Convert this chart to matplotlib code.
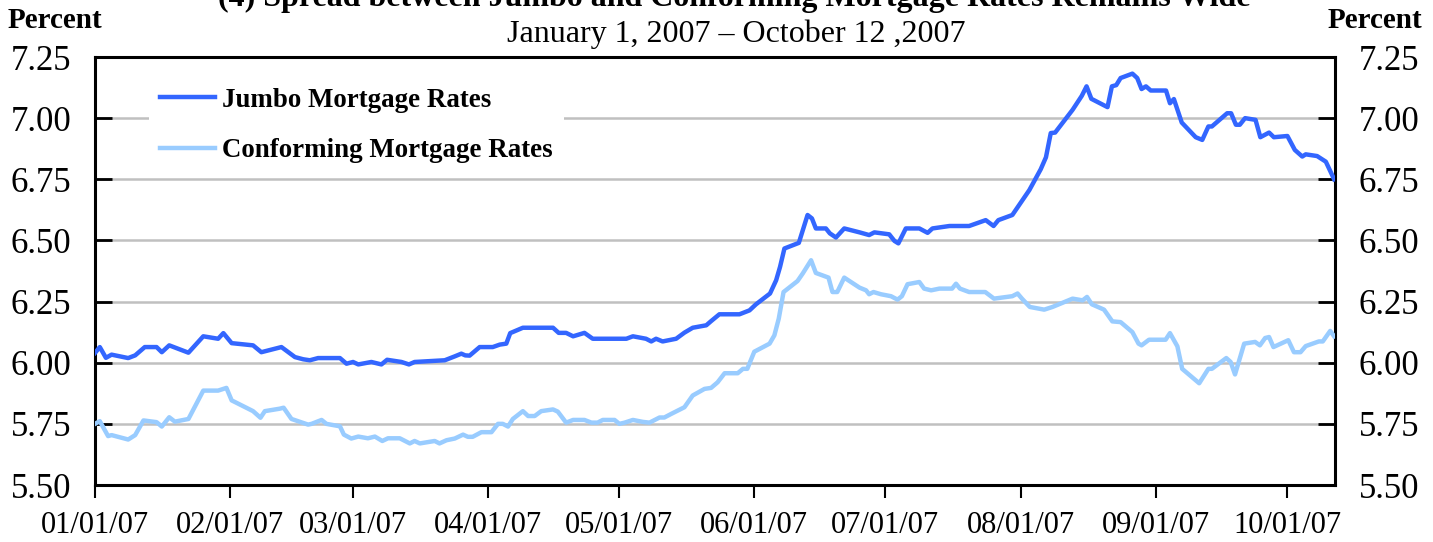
import matplotlib
matplotlib.use("Agg")
import matplotlib.pyplot as plt
import matplotlib.dates as mdates
from matplotlib.ticker import FixedLocator, FormatStrFormatter
import numpy as np
import datetime as dt

# ---------------- data ----------------
title = "(4) Spread between Jumbo and Conforming Mortgage Rates Remains Wide"
subtitle = "January 1, 2007 \u2013 October 12 ,2007"
series_names = ["Jumbo Mortgage Rates", "Conforming Mortgage Rates"]
start_date = dt.datetime(2007, 1, 1)
end_date = dt.datetime(2007, 10, 12)

# days since 2007-01-01
jumbo_days = [0, 1.1, 2.5, 3.8, 7.6, 9.2, 11.4, 14.1, 15.3, 17.0, 21.4, 24.8, 28.2, 29.4, 31.3,
              36.2, 38.1, 42.7, 45.8, 47.7, 49.2, 51.1, 56.1, 57.6, 59.1, 60.3, 63.3, 65.6, 66.9,
              70.2, 71.9, 73.2, 80.1, 82.4, 83.9, 84.8, 85.8, 88.1, 91.1, 92.7, 94.2, 95.1, 98.0,
              104.9, 106.2, 107.9, 109.5, 112.1, 114.0, 121.7, 123.2, 126.2, 127.4, 128.5, 130.0,
              133.1, 135.0, 136.9, 140.0, 141.1, 143.0, 147.6, 149.9, 151.4, 154.6, 156.0, 156.9,
              157.9, 161.2, 163.2, 164.2, 165.1, 167.4, 168.3, 169.7, 171.6, 175.1, 177.3, 178.5,
              181.9, 183.1, 184.0, 185.7, 188.8, 190.7, 191.8, 195.7, 200.2, 204.0, 205.8, 206.9,
              210.1, 214.0, 216.6, 217.8, 218.9, 219.9, 223.9, 226.0, 227.1, 228.2, 231.9, 232.9,
              233.9, 234.9, 237.6, 238.7, 239.7, 240.7, 241.8, 245.3, 246.2, 247.1, 248.9, 252.1,
              253.6, 255.0, 255.8, 259.3, 260.2, 261.3, 262.2, 263.4, 265.8, 266.9, 268.9, 270.0,
              273.1, 274.8, 276.5, 277.3, 279.9, 281.9, 283.8]
jumbo_rates = [6.04, 6.064, 6.02, 6.033, 6.019, 6.03, 6.064, 6.064, 6.043, 6.071, 6.041, 6.108, 6.098, 6.121, 6.08,
               6.071, 6.043, 6.064, 6.023, 6.014, 6.01, 6.019, 6.019, 5.996, 6.003, 5.993, 6.003, 5.993, 6.012,
               6.003, 5.993, 6.003, 6.01, 6.026, 6.037, 6.03, 6.029, 6.064, 6.064, 6.074, 6.078, 6.121, 6.143,
               6.143, 6.122, 6.122, 6.108, 6.122, 6.098, 6.098, 6.108, 6.098, 6.087, 6.098, 6.087,
               6.098, 6.123, 6.143, 6.153, 6.17, 6.198, 6.198, 6.214, 6.239, 6.283, 6.337, 6.392,
               6.467, 6.49, 6.604, 6.59, 6.549, 6.549, 6.529, 6.512, 6.549, 6.533, 6.522, 6.533,
               6.525, 6.498, 6.488, 6.549, 6.549, 6.531, 6.549, 6.559, 6.559, 6.583, 6.559, 6.583,
               6.604, 6.706, 6.791, 6.84, 6.939, 6.941, 7.034, 7.091, 7.13, 7.079, 7.045, 7.13,
               7.135, 7.164, 7.182, 7.164, 7.119, 7.13, 7.113, 7.113, 7.061, 7.078, 6.982, 6.922,
               6.911, 6.966, 6.966, 7.02, 7.02, 6.973, 6.973, 7.0, 6.993, 6.922, 6.941, 6.922,
               6.927, 6.87, 6.843, 6.852, 6.845, 6.822, 6.75]

conf_days = [0, 1.1, 3.0, 3.8, 7.6, 9.2, 11.1, 14.1, 15.3, 17.0, 18.3, 21.4, 24.8, 28.2, 30.1, 31.3,
             36.2, 37.9, 38.9, 42.3, 43.2, 45.0, 48.8, 49.6, 51.9, 53.0, 56.1, 57.0, 58.7, 60.3, 62.5,
             64.1, 65.8, 67.1, 69.8, 72.1, 73.2, 74.4, 77.8, 78.9, 80.5, 82.4, 84.3, 85.4, 86.5, 88.5,
             90.8, 92.3, 93.4, 94.6, 95.7, 98.0, 99.2, 100.7, 102.2, 104.9, 106.0, 107.9, 109.5, 112.1,
             113.7, 115.1, 116.3, 119.0, 120.1, 121.3, 123.2, 125.5, 127.0, 129.3, 130.4, 132.0, 135.0,
             136.9, 139.6, 141.1, 142.6, 144.2, 147.2, 148.4, 149.4, 151.0, 154.5, 155.6, 156.6, 157.7,
             160.9, 162.1, 164.0, 165.1, 168.0, 168.9, 170.0, 171.6, 175.1, 176.6, 177.3, 178.3, 180.0,
             182.3, 183.8, 184.8, 186.1, 188.8, 189.9, 191.5, 193.4, 196.3, 197.2, 198.1, 200.2, 203.9,
             205.9, 210.1, 211.3, 212.3, 214.1, 217.4, 219.3, 223.9, 226.2, 227.2, 228.3, 231.1, 233.0,
             234.9, 237.6, 239.0, 239.7, 241.4, 245.2, 246.2, 247.9, 249.0, 252.9, 255.0, 255.8, 259.1,
             260.1, 261.1, 263.2, 265.7, 266.8, 268.0, 268.9, 269.9, 273.3, 274.6, 276.1, 277.3, 280.3,
             281.2, 282.9, 283.8]
conf_rates = [5.75, 5.761, 5.70, 5.704, 5.686, 5.704, 5.764, 5.757, 5.739, 5.777, 5.759, 5.77, 5.886, 5.886, 5.897, 5.846,
              5.802, 5.775, 5.802, 5.812, 5.816, 5.77, 5.747, 5.75, 5.766, 5.75, 5.74, 5.706, 5.69, 5.698, 5.691,
              5.698, 5.68, 5.691, 5.691, 5.67, 5.68, 5.67, 5.68, 5.67, 5.683, 5.69, 5.706, 5.697, 5.697, 5.716,
              5.716, 5.75, 5.75, 5.739, 5.77, 5.802, 5.782, 5.782, 5.802, 5.809, 5.80, 5.755, 5.766, 5.766,
              5.755, 5.755, 5.766, 5.766, 5.75, 5.755, 5.766, 5.758, 5.755, 5.776, 5.776, 5.791, 5.818,
              5.866, 5.893, 5.897, 5.92, 5.957, 5.957, 5.975, 5.975, 6.045, 6.078, 6.112, 6.18, 6.289,
              6.334, 6.365, 6.419, 6.367, 6.348, 6.289, 6.289, 6.348, 6.307, 6.296, 6.28, 6.289, 6.28,
              6.272, 6.258, 6.272, 6.321, 6.33, 6.303, 6.296, 6.303, 6.303, 6.323, 6.303, 6.289, 6.289,
              6.262, 6.272, 6.283, 6.262, 6.228, 6.217, 6.228, 6.262, 6.255, 6.269, 6.239, 6.217, 6.169,
              6.166, 6.125, 6.078, 6.071, 6.094, 6.094, 6.121, 6.067, 5.975, 5.916, 5.975, 5.975, 6.019,
              6.003, 5.952, 6.078, 6.085, 6.071, 6.101, 6.105, 6.064, 6.092, 6.043, 6.043, 6.068, 6.087,
              6.087, 6.13, 6.108]

y_ticks = [5.50, 5.75, 6.00, 6.25, 6.50, 6.75, 7.00, 7.25]
x_tick_dates = [dt.datetime(2007, m, 1) for m in range(1, 11)]

# ---------------- plot ----------------
plt.rcParams['font.family'] = ['Liberation Serif', 'DejaVu Serif']

fig = plt.figure(figsize=(14.33, 5.42), dpi=100)
ax = fig.add_axes([95 / 1433, 1 - 485 / 542, 1240 / 1433, 428 / 542])

base = mdates.date2num(start_date)
jx = base + np.array(jumbo_days)
cx = base + np.array(conf_days)

ax.plot(jx, jumbo_rates, color='#3366FF', lw=3.2, label=series_names[0], zorder=3,
        solid_joinstyle='round')
ax.plot(cx, conf_rates, color='#99CCFF', lw=3.2, label=series_names[1], zorder=3,
        solid_joinstyle='round')

ax.set_xlim(base, mdates.date2num(end_date))
ax.set_ylim(5.5, 7.25)

ax.yaxis.set_major_locator(FixedLocator(y_ticks))
ax.yaxis.set_major_formatter(FormatStrFormatter('%.2f'))
ax.xaxis.set_major_locator(FixedLocator(mdates.date2num(x_tick_dates)))
ax.xaxis.set_major_formatter(mdates.DateFormatter('%m/%d/%y'))

ax.grid(axis='y', color='#c0c0c0', lw=1.8, zorder=1)
ax.set_axisbelow(True)

for s in ax.spines.values():
    s.set_linewidth(2.2)
    s.set_color('black')

ax.tick_params(axis='y', which='major', direction='in', length=12, width=2,
               left=True, right=True, labelleft=True, labelright=True,
               labelsize=25, pad=17)
ax.tick_params(axis='x', which='major', direction='out', length=9, width=1.5,
               labelsize=22, pad=10)

leg = ax.legend(loc='upper left', bbox_to_anchor=(0.033, 0.985), frameon=True,
                facecolor='white', edgecolor='none', framealpha=1,
                prop={'weight': 'bold', 'size': 19.4}, handlelength=2.05,
                handletextpad=0.25, labelspacing=0.95, borderpad=0.4, fancybox=False)
leg.set_zorder(2)

fig.text(734 / 1433, 1 - 6 / 542, title, ha='center', va='baseline', fontsize=23, fontweight='bold')
fig.text(736 / 1433, 1 - 34 / 542, subtitle, ha='center', va='center', fontsize=23)
fig.text(8 / 1433, 1 - 20 / 542, "Percent", ha='left', va='center', fontsize=21, fontweight='bold')
fig.text(1422 / 1433, 1 - 20 / 542, "Percent", ha='right', va='center', fontsize=21, fontweight='bold')

fig.savefig("out.png", dpi=100)
